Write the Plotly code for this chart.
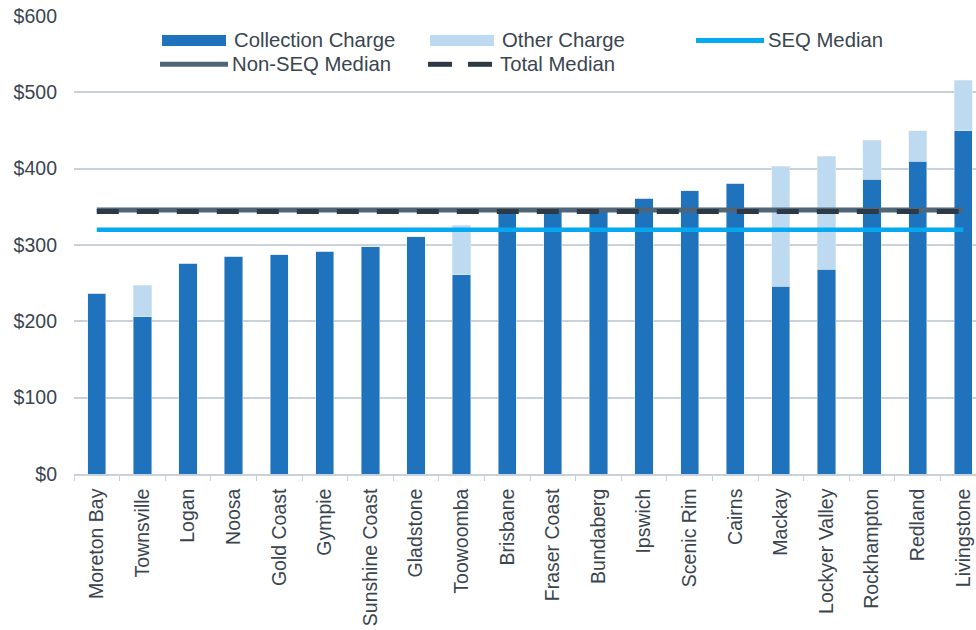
import plotly.graph_objects as go

# =========================
# 数据
# =========================
councils = [
    "Moreton Bay", "Townsville", "Logan", "Noosa", "Gold Coast", "Gympie",
    "Sunshine Coast", "Gladstone", "Toowoomba", "Brisbane", "Fraser Coast",
    "Bundaberg", "Ipswich", "Scenic Rim", "Cairns", "Mackay",
    "Lockyer Valley", "Rockhampton", "Redland", "Livingstone",
]
collection_charge = [237, 206, 276, 285, 287, 292, 298, 311, 261, 345, 346,
                     347, 361, 371, 381, 246, 268, 386, 410, 450]
other_charge = [0, 41, 0, 0, 0, 0, 0, 0, 65, 0, 0,
                0, 0, 0, 0, 157, 148, 51, 40, 66]

seq_median = 320
non_seq_median = 346
total_median = 344

y_ticks = [0, 100, 200, 300, 400, 500, 600]
y_tick_labels = ["$0", "$100", "$200", "$300", "$400", "$500", "$600"]

# =========================
# 样式
# =========================
C_COLLECT = "#1f73bc"
C_OTHER = "#bedaf1"
C_SEQ = "#05a9f0"
C_NONSEQ = "#4f6578"
C_TOTAL = "#2d3a45"
C_TEXT = "#3a4550"
C_GRID = "#c9d2da"
FONT = "Liberation Sans, Arial, sans-serif"

W, H = 976, 630
L, T, B = 74, 16, 156


def px(x, y):
    # 像素 -> paper 坐标
    return (x - L) / (W - L), (H - B - y) / (H - B - T)


fig = go.Figure()

fig.add_trace(go.Bar(x=councils, y=collection_charge, marker_color=C_COLLECT,
                     width=0.4, name="Collection Charge"))
fig.add_trace(go.Bar(x=councils, y=other_charge, marker_color=C_OTHER,
                     width=0.4, name="Other Charge"))

ends = [councils[0], councils[-1]]
fig.add_trace(go.Scatter(x=ends, y=[seq_median] * 2, mode="lines",
                         line=dict(color=C_SEQ, width=4.5), name="SEQ Median"))
fig.add_trace(go.Scatter(x=ends, y=[non_seq_median] * 2, mode="lines",
                         line=dict(color=C_NONSEQ, width=5), name="Non-SEQ Median"))
fig.add_trace(go.Scatter(x=ends, y=[total_median] * 2, mode="lines",
                         line=dict(color=C_TOTAL, width=5, dash="22px,18px"),
                         name="Total Median"))

# =========================
# 图例（手动）
# =========================
legend_items = [
    ("Collection Charge", "box", C_COLLECT, None, 162, 40.5),
    ("Other Charge", "box", C_OTHER, None, 430, 40.5),
    ("SEQ Median", "line", C_SEQ, "solid", 696, 40.5),
    ("Non-SEQ Median", "line", C_NONSEQ, "solid", 160, 64.3),
    ("Total Median", "line", C_TOTAL, "dash", 428, 64.3),
]
shapes = []
annotations = []
for label, kind, color, dash, x0, yc in legend_items:
    if kind == "box":
        a = px(x0, yc - 5.5)
        b = px(x0 + 64, yc + 5.5)
        shapes.append(dict(type="rect", xref="paper", yref="paper",
                           x0=a[0], y0=a[1], x1=b[0], y1=b[1],
                           fillcolor=color, line=dict(width=0)))
    elif dash == "dash":
        for s in (0, 40):
            a = px(x0 + s, yc)
            b = px(x0 + s + 24, yc)
            shapes.append(dict(type="line", xref="paper", yref="paper",
                               x0=a[0], y0=a[1], x1=b[0], y1=b[1],
                               line=dict(color=color, width=5)))
    else:
        a = px(x0, yc)
        b = px(x0 + 68, yc)
        shapes.append(dict(type="line", xref="paper", yref="paper",
                           x0=a[0], y0=a[1], x1=b[0], y1=b[1],
                           line=dict(color=color, width=5)))
    tx = px(x0 + 70, yc)
    annotations.append(dict(text=label, xref="paper", yref="paper",
                            x=tx[0], y=tx[1], xanchor="left", yanchor="middle",
                            showarrow=False,
                            font=dict(family=FONT, size=20.3, color=C_TEXT)))

fig.update_layout(
    barmode="stack",
    width=W, height=H,
    margin=dict(l=L, r=0, t=T, b=B, autoexpand=False),
    plot_bgcolor="white", paper_bgcolor="white",
    showlegend=False,
    shapes=shapes,
    annotations=annotations,
    font=dict(family=FONT, size=19.5, color=C_TEXT),
)
fig.update_xaxes(
    range=[-0.5, 19.28], tickangle=-90, automargin=False,
    showline=True, linecolor=C_GRID, linewidth=1.5,
    ticks="outside", tickson="boundaries", ticklen=5, tickcolor=C_GRID,
    showgrid=False, ticklabelstandoff=5,
)
fig.update_yaxes(
    range=[0, 600], tickvals=y_ticks, ticktext=y_tick_labels, automargin=False,
    showgrid=True, gridcolor=C_GRID, gridwidth=1.5,
    zeroline=False, ticklabelstandoff=16,
)

# 去掉页面默认边距、工具栏
fig.write_html("out.html",
               config={"displayModeBar": False},
               post_script="document.body.style.margin='0';"
                           "document.body.style.overflow='hidden';")
